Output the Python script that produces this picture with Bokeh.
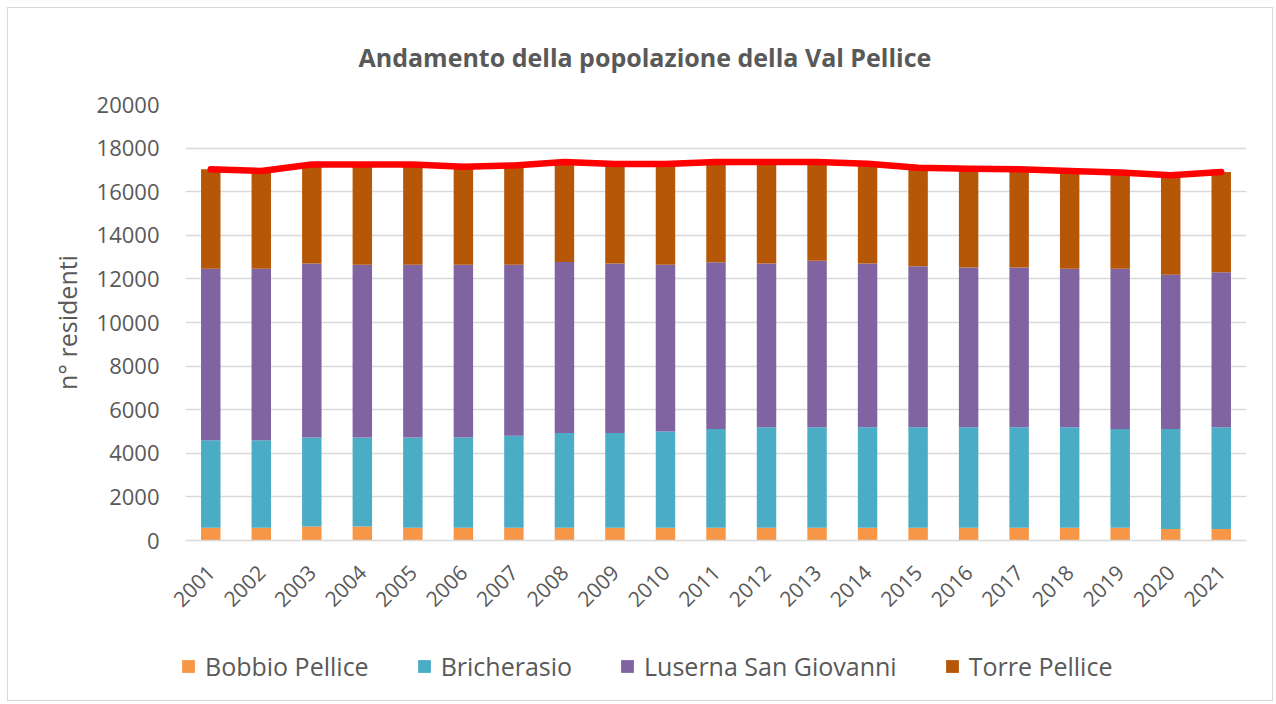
from math import pi
import numpy as np
from bokeh.plotting import figure
from bokeh.layouts import column
from bokeh.models import Legend, LegendItem, FixedTicker, ColumnDataSource, Range1d
from bokeh.embed import file_html
from bokeh.resources import INLINE

years = [str(y) for y in range(2001, 2022)]
bobbio = [585, 585, 640, 640, 585, 585, 585, 585, 585, 585, 585, 585, 585, 585, 585, 585, 585, 585, 585, 530, 530]
bricherasio = [4010, 4010, 4090, 4090, 4145, 4145, 4220, 4350, 4350, 4410, 4530, 4605, 4605, 4605, 4605, 4605, 4605, 4605, 4530, 4585, 4660]
luserna = [7870, 7870, 7975, 7915, 7915, 7915, 7840, 7835, 7775, 7655, 7650, 7515, 7640, 7515, 7395, 7335, 7335, 7275, 7350, 7070, 7120]
torre = [4560, 4485, 4545, 4605, 4605, 4500, 4560, 4595, 4565, 4625, 4595, 4655, 4530, 4580, 4515, 4530, 4500, 4485, 4415, 4565, 4590]
series_names = ["Bobbio Pellice", "Bricherasio", "Luserna San Giovanni", "Torre Pellice"]
y_ticks = [0, 2000, 4000, 6000, 8000, 10000, 12000, 14000, 16000, 18000, 20000]

colors = ["#F79646", "#4BACC6", "#8064A2", "#B65708"]
TXT = "#595959"
FONT = "Open Sans"

totals = list(np.array(bobbio) + np.array(bricherasio) + np.array(luserna) + np.array(torre))
src = ColumnDataSource(dict(year=years, b0=bobbio, b1=bricherasio, b2=luserna, b3=torre, tot=totals))

p = figure(x_range=years, y_range=Range1d(0, 20000), frame_width=1061, frame_height=436,
           output_backend="svg", toolbar_location=None,
           min_border_left=177, min_border_right=26, min_border_top=96, min_border_bottom=100,
           title="Andamento della popolazione della Val Pellice")

renderers = p.vbar_stack(["b0", "b1", "b2", "b3"], x="year", width=0.385, source=src,
                         color=colors, line_color=None)
p.line(x="year", y="tot", source=src, line_color="#FF0000", line_width=6.5, line_join="round", line_cap="round")

p.title.align = "left"
p.title.vertical_align = "top"
p.title.text_font = FONT
p.title.text_font_size = "25px"
p.title.text_font_style = "bold"
p.title.text_color = TXT
p.title.standoff = 58
p.title.offset = 173

p.outline_line_color = None
p.xgrid.grid_line_color = None
p.ygrid.grid_line_color = "#D9D9D9"
p.ygrid.grid_line_width = 1.5

p.yaxis.ticker = FixedTicker(ticks=y_ticks)
p.yaxis.axis_line_color = None
p.yaxis.major_tick_line_color = None
p.yaxis.minor_tick_line_color = None
p.yaxis.major_label_text_font = FONT
p.yaxis.major_label_text_font_size = "22px"
p.yaxis.major_label_text_color = TXT
p.yaxis.major_label_standoff = 20
p.yaxis.axis_label = "n° residenti"
p.yaxis.axis_label_text_font = FONT
p.yaxis.axis_label_text_font_size = "25px"
p.yaxis.axis_label_text_font_style = "normal"
p.yaxis.axis_label_text_color = TXT
p.yaxis.axis_label_standoff = 10

p.xaxis.axis_line_color = "#D9D9D9"
p.xaxis.axis_line_width = 1.5
p.xaxis.major_tick_line_color = None
p.xaxis.minor_tick_line_color = None
p.xaxis.major_tick_out = 0
p.xaxis.major_label_orientation = pi / 4
p.xaxis.major_label_text_font = FONT
p.xaxis.major_label_text_font_size = "21px"
p.xaxis.major_label_text_color = TXT
p.xaxis.major_label_standoff = 28

# legend strip below the chart (zero-size proxy bars only carry the legend colours)
q = figure(frame_width=1264, frame_height=60, min_border=0, x_axis_type=None, y_axis_type=None,
           x_range=Range1d(0, 1), y_range=Range1d(0, 1),
           output_backend="svg", toolbar_location=None)
q.outline_line_color = None
q.xgrid.visible = False
q.ygrid.visible = False
legend_renderers = [q.vbar(x=[0], top=[0], bottom=[0], width=0, fill_color=c, line_color=None) for c in colors]

legend = Legend(items=[LegendItem(label=n, renderers=[r]) for n, r in zip(series_names, legend_renderers)],
                orientation="horizontal", location=(172, 17))
legend.label_text_font = FONT
legend.label_text_font_size = "25px"
legend.label_text_color = TXT
legend.glyph_width = 16
legend.glyph_height = 16
legend.label_standoff = 9
legend.spacing = 47
legend.border_line_color = None
legend.background_fill_alpha = 0
legend.margin = 0
legend.padding = 0
q.add_layout(legend, "center")

layout = column(p, q, spacing=0)
layout.styles = {"border": "1px solid #d9d9d9", "margin-left": "7px", "margin-top": "7px"}

open("out.html", "w").write(file_html(layout, INLINE))
